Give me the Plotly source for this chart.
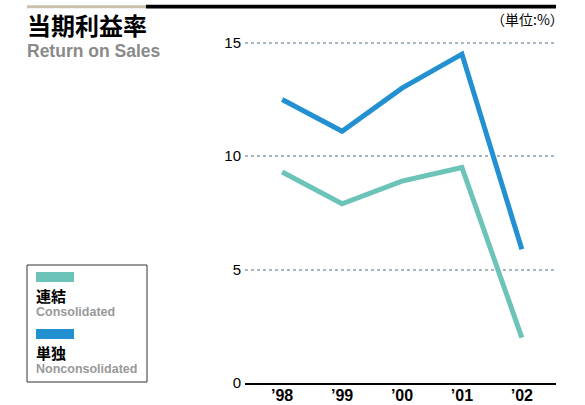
import plotly.graph_objects as go

# data
years = ["’98", "’99", "’00", "’01", "’02"]
consolidated = [9.3, 7.9, 8.9, 9.5, 2.0]
nonconsolidated = [12.5, 11.1, 13.0, 14.5, 5.9]
y_ticks = [0, 5, 10, 15]

TEAL = "#6cc4b9"
BLUE = "#2391d1"
W, H = 585, 405
YTOP = 15.3
L, R, B = 245, 29, 22
T = round(43 - (YTOP - 15) * 340 / 15)
pw, ph = W - L - R, H - T - B


def px(x):
    return (x - L) / pw


def py(y):
    return (H - B - y) / ph


xs = list(range(len(years)))

fig = go.Figure()
fig.add_trace(go.Scatter(x=xs, y=consolidated, mode="lines", name="連結",
                         line=dict(color=TEAL, width=5)))
fig.add_trace(go.Scatter(x=xs, y=nonconsolidated, mode="lines", name="単独",
                         line=dict(color=BLUE, width=5)))

fig.update_layout(
    width=W, height=H,
    margin=dict(l=L, r=R, t=T, b=B, autoexpand=False),
    paper_bgcolor="white", plot_bgcolor="white",
    showlegend=False,
    font=dict(family="Liberation Sans, Arial, sans-serif", color="black"),
)
fig.update_xaxes(
    tickvals=xs, ticktext=years, range=[-0.62, 4.57],
    showgrid=False, zeroline=False,
    showline=True, linecolor="black", linewidth=1.5,
    ticks="", tickfont=dict(size=16, family="Liberation Sans", weight="bold"),
    ticklabelstandoff=-3,
)
fig.update_yaxes(
    tickvals=y_ticks, range=[0, YTOP],
    showgrid=True, gridcolor="#a9b6c4", griddash="dot", gridwidth=1.5,
    zeroline=False, showline=False,
    ticks="", tickfont=dict(size=15), ticklabelstandoff=3,
)

# top rule
fig.add_shape(type="rect", xref="paper", yref="paper",
              x0=px(27), x1=px(146), y0=py(8.3), y1=py(5.2),
              fillcolor="#c9c1aa", line_width=0)
fig.add_shape(type="rect", xref="paper", yref="paper",
              x0=px(146), x1=px(556), y0=py(8.5), y1=py(4.8),
              fillcolor="black", line_width=0)

# titles
fig.add_annotation(xref="paper", yref="paper", x=px(25), y=py(24), xanchor="left", yanchor="middle",
                   text="<b>当期利益率</b>", showarrow=False,
                   font=dict(size=24, family="Noto Sans CJK JP", color="black"))
fig.add_annotation(xref="paper", yref="paper", x=px(25), y=py(51), xanchor="left", yanchor="middle",
                   text="<b>Return on Sales</b>", showarrow=False,
                   font=dict(size=17.5, family="Liberation Sans Narrow, Liberation Sans", color="#8a8a8a"))
fig.add_annotation(xref="paper", yref="paper", x=px(566), y=py(19), xanchor="right", yanchor="middle",
                   text="（単位:%）", showarrow=False,
                   font=dict(size=14, family="Noto Sans CJK JP", color="black"))

# legend box
fig.add_shape(type="rect", xref="paper", yref="paper",
              x0=px(27), x1=px(147), y0=py(382), y1=py(265),
              line=dict(color="#333333", width=1), fillcolor="rgba(0,0,0,0)")
legend_items = [("連結", "Consolidated", TEAL, 272), ("単独", "Nonconsolidated", BLUE, 329)]
for jp, en, col, top in legend_items:
    fig.add_shape(type="rect", xref="paper", yref="paper",
                  x0=px(36), x1=px(74), y0=py(top + 10), y1=py(top),
                  fillcolor=col, line_width=0)
    fig.add_annotation(xref="paper", yref="paper", x=px(34), y=py(top + 23), xanchor="left", yanchor="middle",
                       text="<b>" + jp + "</b>", showarrow=False,
                       font=dict(size=15, family="Noto Sans CJK JP", color="black"))
    fig.add_annotation(xref="paper", yref="paper", x=px(34), y=py(top + 40), xanchor="left", yanchor="middle",
                       text="<b>" + en + "</b>", showarrow=False,
                       font=dict(size=12.5, family="Liberation Sans Narrow, Liberation Sans", color="#999999"))

# drop the default page margin so the figure sits at the window's corner
fig.write_html("out.html", config={"displayModeBar": False},
               post_script="document.body.style.margin='0';")
